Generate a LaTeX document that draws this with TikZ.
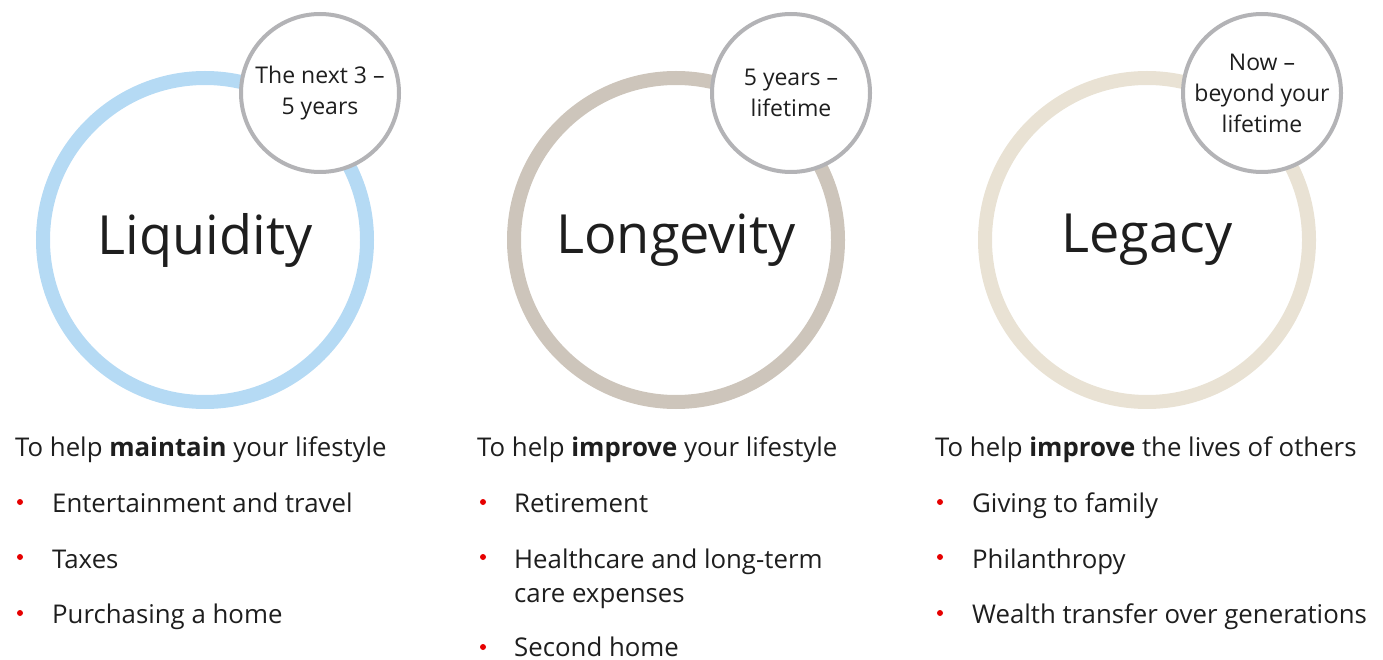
\documentclass[tikz,border=0pt]{standalone}
\usepackage{fontspec}
\setmainfont{Open Sans}
\definecolor{ringblue}{HTML}{B5DAF4}
\definecolor{ringtaupe}{HTML}{CDC5BB}
\definecolor{ringsand}{HTML}{E9E2D4}
\definecolor{badgegray}{HTML}{B3B3B6}
\definecolor{inkdark}{HTML}{1E1E1E}
\definecolor{bulletred}{HTML}{E60000}
\begin{document}
\begin{tikzpicture}[x=1pt,y=-1pt,
  ring/.style={circle,draw=#1,line width=14pt,minimum size=324pt,inner sep=0pt,
    font=\fontsize{54}{60}\selectfont,text=inkdark},
  badge/.style={circle,draw=badgegray,line width=4pt,fill=white,minimum size=158pt,
    inner sep=0pt,align=center,font=\fontsize{23}{31}\selectfont,text=inkdark},
  head/.style={anchor=base west,inner sep=0pt,font=\fontsize{25.8}{31}\selectfont,text=inkdark},
  item/.style={anchor=base west,inner sep=0pt,text depth=0pt,
    font=\fontsize{25.8}{34}\selectfont,text=inkdark,align=left},
  dot/.style={circle,fill=bulletred,minimum size=6pt,inner sep=0pt}]
\useasboundingbox (0,0) rectangle (1383,660);

% the three rings with their titles
\node[ring=ringblue]  (liq) at (205,240) {Liquidity};
\node[ring=ringtaupe] (lon) at (676,240) {Longevity};
\node[ring=ringsand]  (leg) at (1147,240) {Legacy};

% time-horizon badges
\node[badge] (liqT) at (320,93) {The next 3 –\\5 years};
\node[badge] (lonT) at (791,93) {5 years –\\lifetime};
\node[badge] (legT) at (1262,93) {Now –\\beyond your\\lifetime};

% Liquidity column
\node[head] (liqH) at (15,456) {To help \textbf{maintain} your lifestyle};
\node[dot] (liqD1) at (20,502) {};
\node[item] (liqI1) at (52,512) {Entertainment and travel};
\node[dot] (liqD2) at (20,557) {};
\node[item] (liqI2) at (52,568) {Taxes};
\node[dot] (liqD3) at (20,613) {};
\node[item] (liqI3) at (52,623) {Purchasing a home};

% Longevity column (the two-line item is placed by its last baseline)
\node[head] (lonH) at (477,456) {To help \textbf{improve} your lifestyle};
\node[dot] (lonD1) at (483,502) {};
\node[item] (lonI1) at (514,512) {Retirement};
\node[dot] (lonD2) at (483,557) {};
\node[item] (lonI2) at (514,602) {Healthcare and long-term\\care expenses};
\node[dot] (lonD3) at (483,647) {};
\node[item] (lonI3) at (514,656) {Second home};

% Legacy column
\node[head] (legH) at (935,456) {To help \textbf{improve} the lives of others};
\node[dot] (legD1) at (940,502) {};
\node[item] (legI1) at (972,512) {Giving to family};
\node[dot] (legD2) at (940,557) {};
\node[item] (legI2) at (972,568) {Philanthropy};
\node[dot] (legD3) at (940,613) {};
\node[item] (legI3) at (972,623) {Wealth transfer over generations};
\end{tikzpicture}
\end{document}
